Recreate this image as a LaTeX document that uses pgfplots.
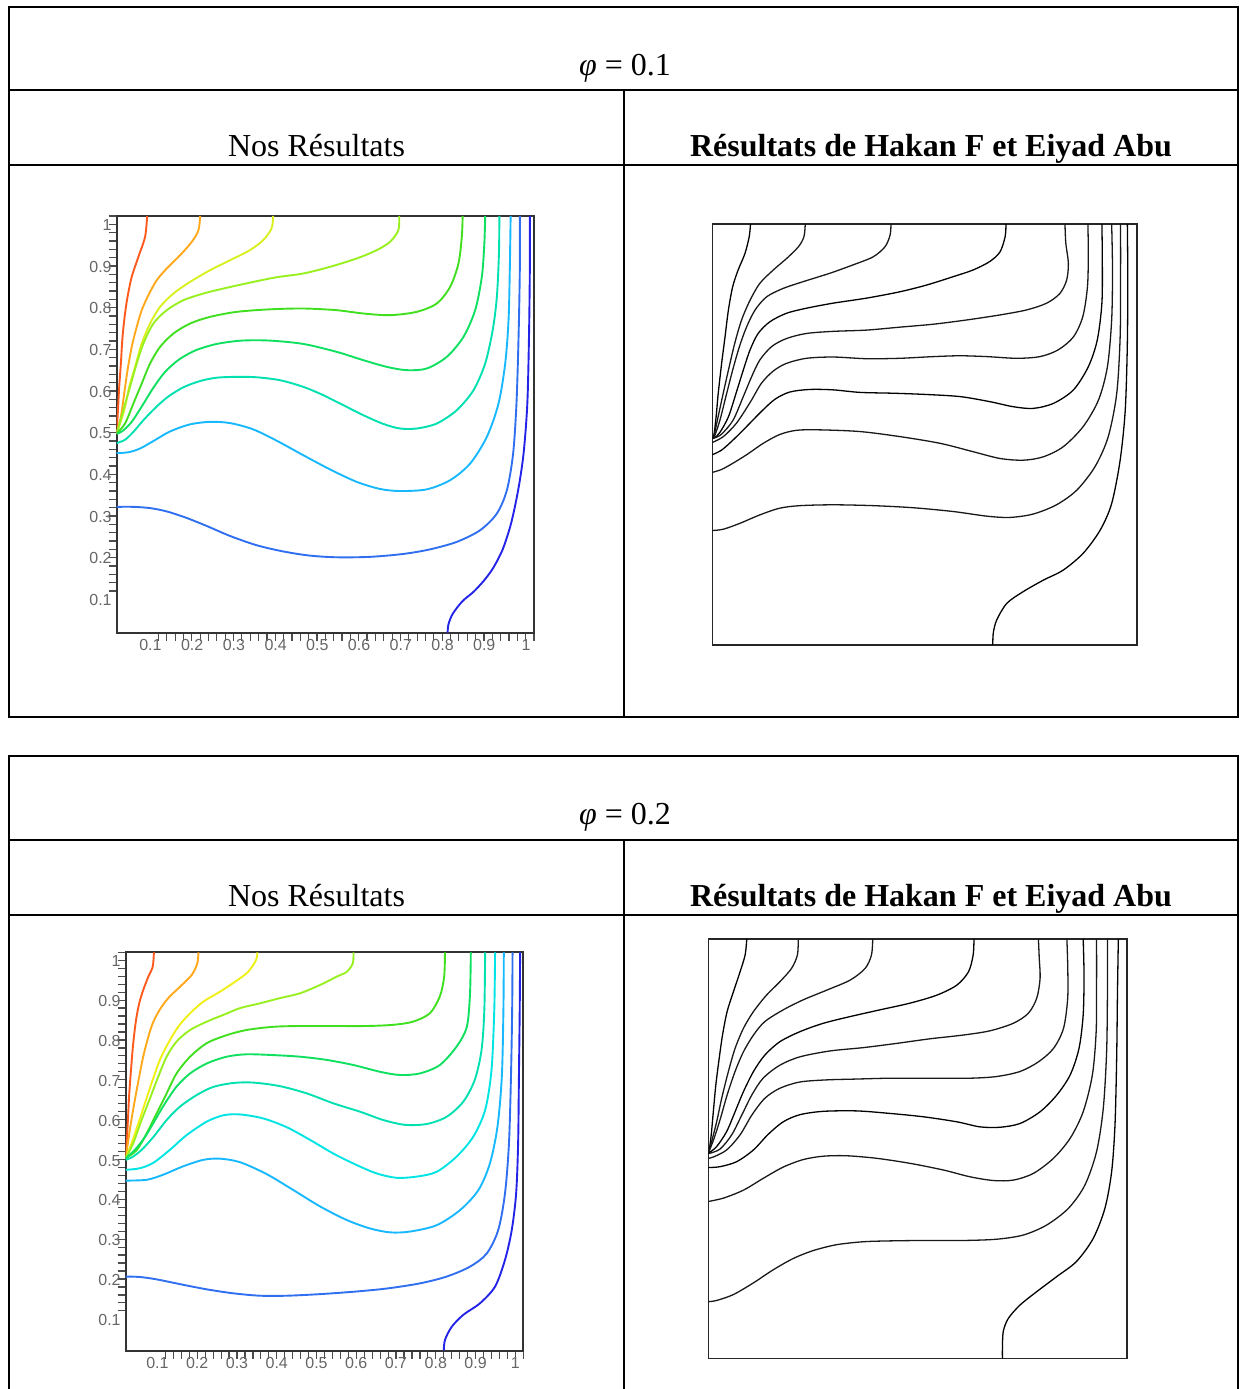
\documentclass[border=0pt]{standalone}
\usepackage{pgfplots}
\pgfplotsset{compat=1.18}
\usepackage{fontspec}
\setmainfont{Liberation Serif}
\setsansfont{Liberation Sans}

% Maple-like hue scale for the coloured isotherms
\definecolor{za}{HTML}{FF5A1E}
\definecolor{zb}{HTML}{FFA81A}
\definecolor{zc}{HTML}{D8F020}
\definecolor{zc2}{HTML}{EEF014}
\definecolor{zd}{HTML}{98F020}
\definecolor{ze}{HTML}{40E020}
\definecolor{zf}{HTML}{10E060}
\definecolor{zg}{HTML}{00E0B0}
\definecolor{zh}{HTML}{00E4E4}
\definecolor{zi}{HTML}{18B8FF}
\definecolor{zj}{HTML}{3070F0}
\definecolor{zk}{HTML}{2424E8}

\pgfplotsset{
  maple/.style={
    scale only axis, xmin=0, xmax=1, ymin=0, ymax=1,
    axis line style={line width=1.1pt, black!80},
    xtick={0.1,0.2,0.3,0.4,0.5,0.6,0.7,0.8,0.9,1},
    ytick={0.1,0.2,0.3,0.4,0.5,0.6,0.7,0.8,0.9,1},
    xticklabels={0.1,0.2,0.3,0.4,0.5,0.6,0.7,0.8,0.9,1},
    yticklabels={0.1,0.2,0.3,0.4,0.5,0.6,0.7,0.8,0.9,1},
    minor tick num=4, tick align=outside, tick pos=left,
    major tick length=4pt, minor tick length=4pt,
    every tick/.style={black!70, line width=0.6pt},
    tick label style={font=\fontsize{8}{8}\selectfont\sffamily, text=black!60},
    xticklabel style={xshift=-4pt, yshift=4pt},
    yticklabel style={yshift=-4.5pt, xshift=5pt},
    every axis plot/.append style={line width=0.95pt, smooth},
  },
  ref/.style={
    scale only axis, xmin=0, xmax=1, ymin=0, ymax=1,
    xtick=\empty, ytick=\empty,
    axis line style={line width=0.8pt, black!85},
    cycle list={{black, solid, no markers}},
    every axis plot/.append style={line width=0.65pt, black!90, smooth},
  },
}

\begin{document}
\begin{tikzpicture}
\useasboundingbox (0,0) rectangle (619.5pt,694.5pt);

% ---------- table for phi = 0.1 ----------
\draw[line width=1pt] (4.5pt,691pt) rectangle (619pt,336pt);
\draw[line width=1pt] (4.5pt,649.5pt) -- (619pt,649.5pt);
\draw[line width=1pt] (4.5pt,612pt) -- (619pt,612pt);
\draw[line width=1pt] (312pt,649.5pt) -- (312pt,336pt);
\node[anchor=base, font=\fontsize{16}{19}\selectfont] at (312.5pt,656.75pt) {{\itshape φ} = 0.1};
\node[anchor=base, font=\fontsize{16}{19}\selectfont] at (158.25pt,616pt) {Nos Résultats};
\node[anchor=base, font=\fontsize{16}{19}\selectfont\bfseries] at (465.5pt,616pt) {Résultats de Hakan F et Eiyad Abu};

% ---------- table for phi = 0.2 ----------
\draw[line width=1pt] (4.5pt,-2pt) -- (4.5pt,316.5pt) -- (619pt,316.5pt) -- (619pt,-2pt);
\draw[line width=1pt] (4.5pt,274.5pt) -- (619pt,274.5pt);
\draw[line width=1pt] (4.5pt,237pt) -- (619pt,237pt);
\draw[line width=1pt] (312pt,274.5pt) -- (312pt,-2pt);
\node[anchor=base, font=\fontsize{16}{19}\selectfont] at (312.5pt,282.25pt) {{\itshape φ} = 0.2};
\node[anchor=base, font=\fontsize{16}{19}\selectfont] at (158.25pt,241pt) {Nos Résultats};
\node[anchor=base, font=\fontsize{16}{19}\selectfont\bfseries] at (465.5pt,241pt) {Résultats de Hakan F et Eiyad Abu};

% ---------- our results, phi = 0.1 ----------
\begin{axis}[maple, at={(58.35pt,378.15pt)}, anchor=south west, width=208.65pt, height=208.35pt]
\addplot[za] coordinates {(0.073,1) (0.068,0.950) (0.052,0.902) (0.036,0.854) (0.026,0.806) (0.020,0.766) (0.014,0.710) (0.010,0.646) (0.006,0.590) (0.003,0.534) (0,0.478)};
\addplot[zb] coordinates {(0.200,1) (0.196,0.966) (0.180,0.938) (0.152,0.906) (0.120,0.874) (0.096,0.846) (0.076,0.810) (0.060,0.774) (0.048,0.734) (0.036,0.686) (0.026,0.630) (0.018,0.574) (0.010,0.518) (0,0.478)};
\addplot[zc] coordinates {(0.375,1) (0.371,0.970) (0.351,0.942) (0.319,0.918) (0.272,0.894) (0.224,0.870) (0.176,0.842) (0.136,0.814) (0.104,0.782) (0.080,0.742) (0.060,0.694) (0.044,0.638) (0.030,0.590) (0.018,0.534) (0,0.478)};
\addplot[zd] coordinates {(0.677,1) (0.675,0.966) (0.655,0.938) (0.623,0.918) (0.575,0.898) (0.511,0.878) (0.447,0.862) (0.383,0.853) (0.319,0.840) (0.256,0.826) (0.208,0.814) (0.160,0.798) (0.120,0.774) (0.088,0.742) (0.064,0.694) (0.048,0.646) (0.032,0.590) (0.016,0.534) (0,0.478)};
\addplot[ze] coordinates {(0.829,1) (0.827,0.950) (0.819,0.886) (0.799,0.830) (0.767,0.790) (0.719,0.770) (0.655,0.762) (0.591,0.766) (0.527,0.774) (0.447,0.778) (0.367,0.776) (0.288,0.770) (0.224,0.758) (0.176,0.742) (0.136,0.718) (0.104,0.686) (0.080,0.646) (0.060,0.598) (0.040,0.550) (0.020,0.502) (0,0.478)};
\addplot[zf] coordinates {(0.883,1) (0.881,0.934) (0.875,0.854) (0.859,0.774) (0.831,0.710) (0.791,0.662) (0.743,0.634) (0.695,0.630) (0.647,0.638) (0.591,0.654) (0.527,0.674) (0.447,0.693) (0.367,0.701) (0.300,0.701) (0.240,0.693) (0.190,0.678) (0.150,0.656) (0.116,0.626) (0.088,0.588) (0.062,0.546) (0.036,0.506) (0.014,0.484) (0,0.477)};
\addplot[zg] coordinates {(0.917,1) (0.916,0.910) (0.911,0.806) (0.901,0.726) (0.883,0.646) (0.855,0.582) (0.815,0.534) (0.767,0.502) (0.719,0.490) (0.679,0.490) (0.639,0.501) (0.591,0.522) (0.543,0.546) (0.495,0.570) (0.447,0.590) (0.391,0.606) (0.335,0.613) (0.288,0.614) (0.240,0.612) (0.200,0.604) (0.160,0.589) (0.124,0.567) (0.094,0.541) (0.064,0.510) (0.040,0.482) (0.020,0.463) (0,0.455)};
\addplot[zi] coordinates {(0.944,1) (0.942,0.870) (0.939,0.750) (0.931,0.646) (0.915,0.550) (0.887,0.470) (0.847,0.406) (0.799,0.366) (0.743,0.344) (0.679,0.340) (0.631,0.345) (0.575,0.362) (0.511,0.392) (0.447,0.426) (0.383,0.461) (0.327,0.488) (0.272,0.503) (0.224,0.506) (0.176,0.500) (0.128,0.483) (0.088,0.460) (0.056,0.442) (0.028,0.433) (0,0.431)};
\addplot[zj] coordinates {(0.966,1) (0.966,0.870) (0.963,0.710) (0.958,0.550) (0.950,0.430) (0.935,0.342) (0.911,0.286) (0.871,0.246) (0.815,0.218) (0.751,0.200) (0.687,0.189) (0.607,0.182) (0.527,0.181) (0.463,0.185) (0.399,0.195) (0.335,0.210) (0.272,0.232) (0.216,0.256) (0.166,0.276) (0.120,0.291) (0.080,0.299) (0.040,0.302) (0,0.302)};
\addplot[zk] coordinates {(0.990,1) (0.990,0.870) (0.988,0.710) (0.984,0.550) (0.975,0.430) (0.962,0.342) (0.945,0.262) (0.925,0.200) (0.902,0.155) (0.880,0.125) (0.855,0.098) (0.828,0.075) (0.805,0.045) (0.795,0.020) (0.793,0)};
\end{axis}

% ---------- reference results, phi = 0.1 ----------
\begin{axis}[ref, at={(356.15pt,372pt)}, anchor=south west, width=212.2pt, height=210.5pt]
\addplot coordinates {(0.090,1) (0.087,0.970) (0.077,0.930) (0.061,0.891) (0.048,0.851) (0.038,0.796) (0.030,0.732) (0.022,0.669) (0.014,0.598) (0.009,0.542) (0.004,0.500) (0,0.491)};
\addplot coordinates {(0.219,1) (0.216,0.970) (0.203,0.946) (0.175,0.918) (0.144,0.891) (0.112,0.859) (0.089,0.819) (0.069,0.772) (0.053,0.717) (0.038,0.653) (0.024,0.590) (0.012,0.534) (0.004,0.497) (0,0.491)};
\addplot coordinates {(0.421,1) (0.419,0.974) (0.407,0.946) (0.379,0.922) (0.332,0.903) (0.277,0.883) (0.214,0.863) (0.167,0.847) (0.128,0.827) (0.101,0.796) (0.081,0.756) (0.064,0.709) (0.048,0.653) (0.032,0.590) (0.018,0.534) (0.006,0.498) (0,0.491)};
\addplot coordinates {(0.692,1) (0.690,0.970) (0.678,0.934) (0.654,0.911) (0.615,0.891) (0.568,0.875) (0.505,0.855) (0.442,0.839) (0.364,0.824) (0.285,0.812) (0.222,0.800) (0.175,0.788) (0.136,0.768) (0.108,0.740) (0.089,0.701) (0.073,0.653) (0.056,0.598) (0.038,0.542) (0.018,0.505) (0.006,0.493) (0,0.491)};
\addplot coordinates {(0.831,1) (0.833,0.954) (0.839,0.907) (0.835,0.867) (0.819,0.835) (0.788,0.812) (0.741,0.796) (0.678,0.784) (0.599,0.772) (0.521,0.762) (0.442,0.755) (0.364,0.748) (0.285,0.745) (0.222,0.740) (0.175,0.728) (0.140,0.709) (0.112,0.677) (0.093,0.638) (0.073,0.590) (0.049,0.534) (0.022,0.501) (0.006,0.492) (0,0.490)};
\addplot coordinates {(0.885,1) (0.886,0.930) (0.884,0.851) (0.873,0.780) (0.851,0.732) (0.815,0.701) (0.772,0.685) (0.717,0.681) (0.647,0.685) (0.584,0.687) (0.521,0.685) (0.442,0.681) (0.364,0.680) (0.285,0.684) (0.222,0.681) (0.175,0.669) (0.144,0.651) (0.116,0.622) (0.089,0.576) (0.057,0.527) (0.026,0.495) (0,0.481)};
\addplot coordinates {(0.918,1) (0.919,0.915) (0.918,0.812) (0.907,0.724) (0.886,0.661) (0.851,0.606) (0.804,0.574) (0.756,0.562) (0.709,0.566) (0.654,0.578) (0.584,0.590) (0.505,0.595) (0.427,0.598) (0.348,0.600) (0.285,0.606) (0.230,0.607) (0.183,0.601) (0.148,0.584) (0.116,0.555) (0.081,0.519) (0.049,0.487) (0.022,0.463) (0,0.452)};
\addplot coordinates {(0.941,1) (0.943,0.891) (0.941,0.772) (0.931,0.661) (0.910,0.582) (0.874,0.519) (0.827,0.471) (0.780,0.447) (0.733,0.439) (0.678,0.443) (0.615,0.459) (0.537,0.479) (0.442,0.495) (0.348,0.507) (0.254,0.511) (0.199,0.510) (0.159,0.500) (0.120,0.479) (0.081,0.452) (0.049,0.432) (0.022,0.417) (0,0.410)};
\addplot coordinates {(0.962,1) (0.962,0.875) (0.961,0.732) (0.953,0.598) (0.933,0.495) (0.902,0.424) (0.859,0.368) (0.811,0.333) (0.756,0.311) (0.701,0.303) (0.647,0.306) (0.568,0.317) (0.474,0.326) (0.379,0.331) (0.285,0.333) (0.207,0.331) (0.159,0.325) (0.112,0.309) (0.065,0.289) (0.026,0.275) (0,0.272)};
\addplot coordinates {(0.978,1) (0.979,0.875) (0.978,0.717) (0.973,0.558) (0.961,0.439) (0.941,0.336) (0.914,0.273) (0.874,0.218) (0.827,0.178) (0.780,0.154) (0.733,0.127) (0.694,0.099) (0.670,0.059) (0.662,0.028) (0.661,0)};
\end{axis}

% ---------- our results, phi = 0.2 ----------
\begin{axis}[maple, at={(62.85pt,19.15pt)}, anchor=south west, width=198.8pt, height=199.2pt]
\addplot[za] coordinates {(0.071,1) (0.068,0.964) (0.057,0.939) (0.044,0.905) (0.034,0.872) (0.026,0.830) (0.019,0.772) (0.014,0.713) (0.009,0.646) (0.006,0.587) (0.003,0.529) (0,0.483)};
\addplot[zb] coordinates {(0.183,1) (0.180,0.972) (0.166,0.943) (0.137,0.914) (0.107,0.885) (0.085,0.855) (0.068,0.822) (0.057,0.788) (0.044,0.738) (0.034,0.688) (0.023,0.629) (0.013,0.571) (0.003,0.504) (0,0.483)};
\addplot[zc2] coordinates {(0.331,1) (0.328,0.981) (0.308,0.951) (0.275,0.926) (0.237,0.901) (0.195,0.876) (0.162,0.847) (0.132,0.813) (0.107,0.772) (0.086,0.730) (0.068,0.680) (0.051,0.629) (0.032,0.571) (0.015,0.521) (0,0.483)};
\addplot[zd] coordinates {(0.573,1) (0.571,0.972) (0.556,0.951) (0.531,0.939) (0.489,0.918) (0.438,0.897) (0.388,0.885) (0.338,0.872) (0.288,0.860) (0.246,0.843) (0.204,0.826) (0.162,0.805) (0.128,0.776) (0.103,0.738) (0.082,0.688) (0.061,0.633) (0.040,0.579) (0.019,0.521) (0,0.483)};
\addplot[ze] coordinates {(0.803,1) (0.801,0.939) (0.790,0.889) (0.765,0.847) (0.723,0.826) (0.673,0.818) (0.606,0.815) (0.522,0.815) (0.438,0.815) (0.371,0.813) (0.304,0.805) (0.254,0.792) (0.204,0.772) (0.162,0.738) (0.128,0.696) (0.103,0.646) (0.078,0.596) (0.053,0.546) (0.028,0.504) (0,0.483)};
\addplot[zf] coordinates {(0.868,1) (0.866,0.897) (0.858,0.813) (0.832,0.763) (0.790,0.717) (0.740,0.696) (0.690,0.692) (0.640,0.700) (0.573,0.717) (0.505,0.730) (0.438,0.738) (0.371,0.742) (0.304,0.744) (0.254,0.738) (0.204,0.721) (0.162,0.696) (0.128,0.663) (0.099,0.621) (0.074,0.579) (0.049,0.537) (0.023,0.504) (0,0.483)};
\addplot[zg] coordinates {(0.904,1) (0.902,0.855) (0.895,0.755) (0.878,0.680) (0.849,0.625) (0.807,0.587) (0.757,0.569) (0.702,0.567) (0.648,0.579) (0.589,0.600) (0.522,0.621) (0.455,0.646) (0.388,0.664) (0.321,0.673) (0.271,0.672) (0.220,0.662) (0.179,0.642) (0.137,0.613) (0.103,0.579) (0.070,0.537) (0.040,0.504) (0.015,0.485) (0,0.479)};
\addplot[zh] coordinates {(0.929,1) (0.927,0.855) (0.920,0.704) (0.904,0.604) (0.874,0.537) (0.832,0.487) (0.782,0.449) (0.732,0.437) (0.681,0.434) (0.631,0.445) (0.581,0.466) (0.522,0.495) (0.464,0.529) (0.405,0.561) (0.346,0.583) (0.288,0.593) (0.246,0.591) (0.204,0.575) (0.153,0.541) (0.111,0.504) (0.070,0.472) (0.036,0.458) (0,0.454)};
\addplot[zi] coordinates {(0.951,1) (0.950,0.855) (0.946,0.688) (0.935,0.562) (0.916,0.470) (0.887,0.403) (0.841,0.353) (0.782,0.315) (0.715,0.299) (0.665,0.297) (0.614,0.307) (0.556,0.328) (0.489,0.362) (0.422,0.403) (0.355,0.443) (0.288,0.473) (0.237,0.482) (0.195,0.479) (0.145,0.463) (0.095,0.442) (0.053,0.429) (0,0.427)};
\addplot[zj] coordinates {(0.973,1) (0.972,0.855) (0.969,0.688) (0.964,0.521) (0.954,0.395) (0.937,0.303) (0.908,0.244) (0.866,0.211) (0.807,0.186) (0.740,0.169) (0.656,0.156) (0.573,0.148) (0.489,0.142) (0.405,0.138) (0.338,0.138) (0.271,0.144) (0.204,0.154) (0.137,0.167) (0.078,0.179) (0.036,0.185) (0,0.186)};
\addplot[zk] coordinates {(0.992,1) (0.991,0.855) (0.989,0.688) (0.987,0.521) (0.982,0.395) (0.971,0.303) (0.954,0.228) (0.929,0.161) (0.891,0.119) (0.849,0.090) (0.820,0.060) (0.803,0.027) (0.800,0)};
\end{axis}

% ---------- reference results, phi = 0.2 ----------
\begin{axis}[ref, at={(354.15pt,15.35pt)}, anchor=south west, width=209.2pt, height=209.65pt]
\addplot coordinates {(0.092,1) (0.088,0.962) (0.076,0.922) (0.060,0.874) (0.045,0.827) (0.034,0.771) (0.026,0.715) (0.018,0.652) (0.012,0.588) (0.007,0.533) (0.002,0.495) (0,0.489)};
\addplot coordinates {(0.215,1) (0.213,0.962) (0.199,0.930) (0.171,0.898) (0.139,0.866) (0.108,0.827) (0.084,0.787) (0.064,0.739) (0.048,0.684) (0.032,0.620) (0.020,0.564) (0.008,0.517) (0,0.489)};
\addplot coordinates {(0.393,1) (0.390,0.962) (0.375,0.930) (0.339,0.902) (0.283,0.878) (0.227,0.855) (0.179,0.831) (0.135,0.803) (0.108,0.771) (0.084,0.731) (0.064,0.684) (0.045,0.628) (0.029,0.572) (0.014,0.525) (0,0.489)};
\addplot coordinates {(0.635,1) (0.633,0.962) (0.622,0.922) (0.594,0.890) (0.546,0.866) (0.482,0.847) (0.410,0.831) (0.339,0.815) (0.275,0.799) (0.219,0.779) (0.171,0.755) (0.135,0.723) (0.108,0.684) (0.084,0.636) (0.064,0.588) (0.044,0.541) (0.020,0.505) (0,0.489)};
\addplot coordinates {(0.789,1) (0.791,0.954) (0.793,0.906) (0.785,0.859) (0.765,0.823) (0.729,0.799) (0.673,0.781) (0.610,0.771) (0.530,0.762) (0.450,0.751) (0.371,0.741) (0.291,0.733) (0.219,0.719) (0.171,0.699) (0.131,0.668) (0.104,0.628) (0.080,0.580) (0.056,0.533) (0.028,0.499) (0,0.488)};
\addplot coordinates {(0.857,1) (0.859,0.938) (0.859,0.859) (0.849,0.787) (0.825,0.739) (0.789,0.707) (0.745,0.684) (0.689,0.672) (0.625,0.668) (0.530,0.668) (0.434,0.668) (0.355,0.666) (0.283,0.664) (0.219,0.659) (0.171,0.644) (0.135,0.620) (0.104,0.580) (0.076,0.533) (0.044,0.497) (0.012,0.480) (0,0.477)};
\addplot coordinates {(0.896,1) (0.898,0.914) (0.896,0.819) (0.886,0.739) (0.865,0.676) (0.833,0.628) (0.793,0.588) (0.745,0.560) (0.697,0.551) (0.649,0.552) (0.594,0.564) (0.514,0.576) (0.434,0.584) (0.355,0.590) (0.275,0.589) (0.219,0.581) (0.179,0.564) (0.143,0.534) (0.108,0.497) (0.068,0.469) (0.028,0.457) (0,0.455)};
\addplot coordinates {(0.928,1) (0.928,0.890) (0.927,0.779) (0.918,0.676) (0.896,0.588) (0.865,0.525) (0.825,0.477) (0.777,0.441) (0.729,0.425) (0.681,0.424) (0.625,0.433) (0.562,0.449) (0.482,0.465) (0.402,0.477) (0.331,0.483) (0.275,0.482) (0.227,0.474) (0.179,0.456) (0.131,0.429) (0.084,0.401) (0.036,0.382) (0,0.374)};
\addplot coordinates {(0.954,1) (0.954,0.874) (0.952,0.731) (0.944,0.596) (0.928,0.493) (0.900,0.413) (0.861,0.358) (0.809,0.318) (0.753,0.294) (0.689,0.284) (0.610,0.281) (0.514,0.281) (0.434,0.280) (0.371,0.278) (0.307,0.271) (0.251,0.257) (0.203,0.238) (0.155,0.211) (0.108,0.180) (0.060,0.152) (0.020,0.138) (0,0.135)};
\addplot coordinates {(0.980,1) (0.978,0.874) (0.976,0.715) (0.972,0.556) (0.964,0.445) (0.948,0.358) (0.920,0.286) (0.880,0.231) (0.833,0.195) (0.785,0.159) (0.745,0.127) (0.717,0.095) (0.705,0.064) (0.703,0.024) (0.703,0)};
\end{axis}
\end{tikzpicture}
\end{document}
